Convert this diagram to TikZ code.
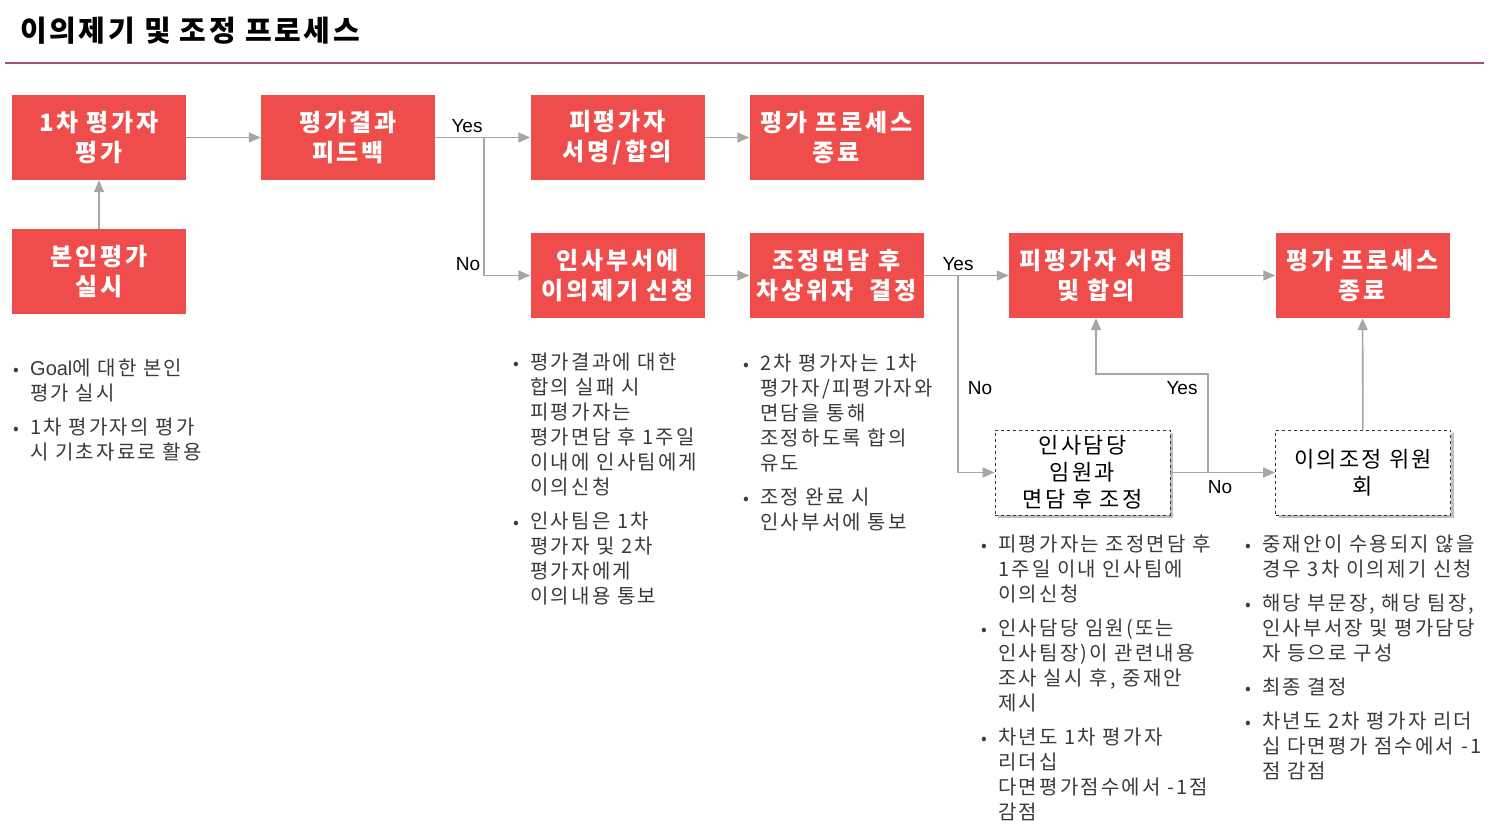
\documentclass[tikz,border=0pt]{standalone}
\usepackage{fontspec}
\setmainfont{Noto Sans CJK KR}
\newfontfamily\latinsf{Liberation Sans}
\usetikzlibrary{arrows.meta,shadows}
\definecolor{boxred}{HTML}{EF4D4B}
\definecolor{arrgray}{HTML}{A6A6A6}
\definecolor{rulecol}{HTML}{A0546A}
\definecolor{txtgray}{HTML}{3A3A3A}
\newcommand\bu{\makebox[17pt][l]{\fontsize{17}{17}\selectfont •}}
\newcommand\ind{\hspace*{17pt}}
\tikzset{
  redbox/.style={fill=boxred, text=white, font=\fontsize{24}{30}\selectfont\bfseries\addfontfeature{LetterSpace=12},
    minimum width=174pt, minimum height=85pt, align=center, inner sep=2pt},
  dashbox/.style={fill=white, draw=black!80, dashed, line width=0.7pt,
    text=black, font=\fontsize{22}{27}\selectfont\addfontfeature{LetterSpace=10},
    minimum width=175pt, minimum height=85pt, align=center, inner sep=2pt,
    drop shadow={shadow xshift=3pt, shadow yshift=-3pt, fill=black!25, opacity=1}},
  arr/.style={draw=arrgray, line width=1.6pt, -{Triangle[length=12pt,width=10pt]}},
  lbl/.style={font=\latinsf\fontsize{19}{22}\selectfont, text=black, inner sep=0pt},
  blist/.style={anchor=north west, align=left, inner sep=0pt, text=txtgray,
    font=\fontsize{20}{25}\selectfont\addfontfeature{LetterSpace=11}}
}
\begin{document}
\begin{tikzpicture}[x=1pt,y=-1pt]
\useasboundingbox (0,0) rectangle (1497,837);
% title
\node[anchor=west, inner sep=0pt, font=\fontsize{29}{32}\selectfont\bfseries\addfontfeature{LetterSpace=9}] (title) at (20,31) {이의제기 및 조정 프로세스};
\coordinate (r1) at (5,63);
\coordinate (r2) at (1484,63);
\draw[rulecol, line width=1.5pt] (r1) -- (r2);

% boxes
\node[redbox] (A) at (99,137.5) {1차 평가자\\평가};
\node[redbox] (B) at (348,137.5) {평가결과\\피드백};
\node[redbox] (C) at (617.5,137.5) {피평가자\\서명/합의};
\node[redbox] (D) at (836.5,137.5) {평가 프로세스\\종료};
\node[redbox] (E) at (99,271.5) {본인평가\\실시};
\node[redbox] (F) at (617.5,275.5) {인사부서에\\이의제기 신청};
\node[redbox] (G) at (836.5,275.5) {조정면담 후\\차상위자 \ 결정};
\node[redbox] (H) at (1096,275.5) {피평가자 서명\\및 합의};
\node[redbox] (I) at (1362.5,275.5) {평가 프로세스\\종료};
\node[dashbox] (J) at (1082.5,472.5) {인사담당\\임원과\\면담 후 조정};
\node[dashbox] (K) at (1363,472.5) {이의조정 위원\\회};

% connectors
\draw[arr] (A) -- (B);
\draw[arr] (B) -- (C);
\draw[arr] (C) -- (D);
\draw[arr] (E) -- (A);
\coordinate (b1) at (484,137.5);
\draw[arr] (b1) |- (F.west);
\draw[arr] (F) -- (G);
\draw[arr] (G) -- (H);
\coordinate (g1) at (958,275.5);
\draw[arr] (g1) |- (J.west);
\draw[arr] (H) -- (I);
\draw[arr] (J) -- (K);
\coordinate (j1) at (1208,472.5);
\coordinate (j2) at (1208,374);
\draw[arr] (j1) -- (j2) -| (H.south);
\draw[arr] (K) -- (I);

% labels
\node[lbl] (yes1) at (467,126) {Yes};
\node[lbl] (no1) at (468,264) {No};
\node[lbl] (yes2) at (958,264) {Yes};
\node[lbl] (no2) at (980,388) {No};
\node[lbl] (yes3) at (1182,388) {Yes};
\node[lbl] (no3) at (1220,487) {No};

% bullet lists
\node[blist] (L1) at (13,359) {\bu {\latinsf Goal}에 대한 본인\\\ind 평가 실시\\[9pt]\bu 1차 평가자의 평가\\\ind 시 기초자료로 활용};
\node[blist] (L2) at (513,353) {\bu 평가결과에 대한\\\ind 합의 실패 시\\\ind 피평가자는\\\ind 평가면담 후 1주일\\\ind 이내에 인사팀에게\\\ind 이의신청\\[9pt]\bu 인사팀은 1차\\\ind 평가자 및 2차\\\ind 평가자에게\\\ind 이의내용 통보};
\node[blist] (L3) at (743,354) {\bu 2차 평가자는 1차\\\ind 평가자/피평가자와\\\ind 면담을 통해\\\ind 조정하도록 합의\\\ind 유도\\[9pt]\bu 조정 완료 시\\\ind 인사부서에 통보};
\node[blist] (L4) at (981,535) {\bu 피평가자는 조정면담 후\\\ind 1주일 이내 인사팀에\\\ind 이의신청\\[9pt]\bu 인사담당 임원(또는\\\ind 인사팀장)이 관련내용\\\ind 조사 실시 후, 중재안\\\ind 제시\\[9pt]\bu 차년도 1차 평가자\\\ind 리더십\\\ind 다면평가점수에서 -1점\\\ind 감점};
\node[blist] (L5) at (1245,535) {\bu 중재안이 수용되지 않을\\\ind 경우 3차 이의제기 신청\\[9pt]\bu 해당 부문장, 해당 팀장,\\\ind 인사부서장 및 평가담당\\\ind 자 등으로 구성\\[9pt]\bu 최종 결정\\[9pt]\bu 차년도 2차 평가자 리더\\\ind 십 다면평가 점수에서 -1\\\ind 점 감점};
\end{tikzpicture}
\end{document}
